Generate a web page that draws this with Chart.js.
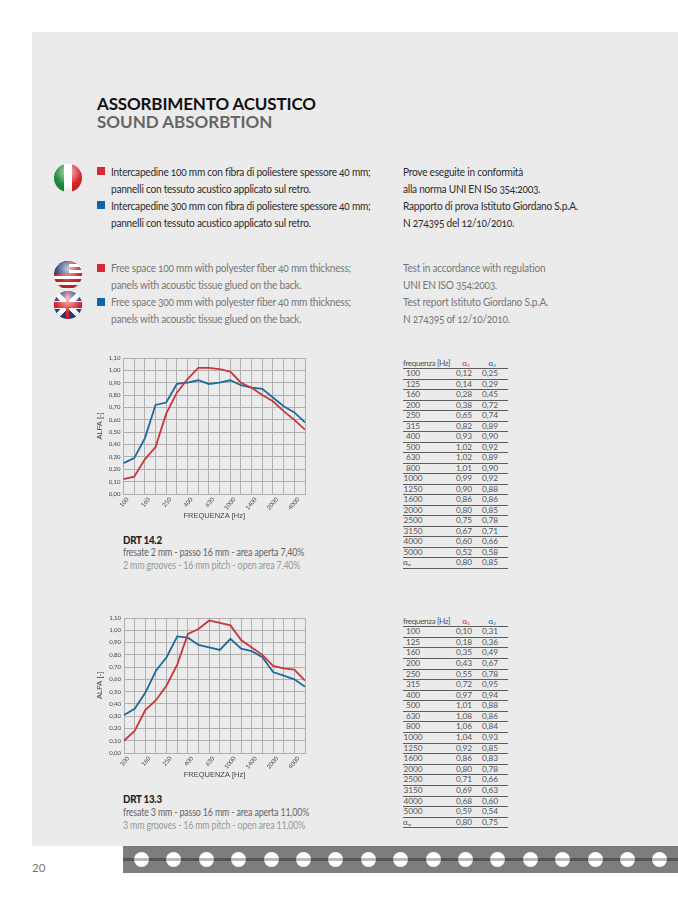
<!DOCTYPE html>
<html>
<head>
<meta charset="utf-8">
<script src="https://cdn.jsdelivr.net/npm/chart.js@4"></script>
<style>
html,body{margin:0;padding:0;background:#fff;}
body{width:678px;height:904px;position:relative;overflow:hidden;font-family:Lato,sans-serif;}
.abs{position:absolute;white-space:nowrap;}
#panel{left:32px;top:32px;width:646px;height:814px;background:#ebebeb;}
.h1{font-size:17px;line-height:18px;font-weight:700;}
.tx{font-size:11.5px;line-height:17px;letter-spacing:-.28px;transform:scaleX(.88);transform-origin:0 0;font-variant-numeric:oldstyle-nums;}
.dk{color:#2b2b2b;}
.gr{color:#777;}
.sq{position:absolute;width:8px;height:8px;}
.flag{position:absolute;width:28px;height:28px;border-radius:50%;overflow:hidden;}
.flag:after{content:"";position:absolute;inset:0;border-radius:50%;background:radial-gradient(circle at 50% 28%,rgba(255,255,255,.75),rgba(255,255,255,0) 55%,rgba(0,0,0,.18) 100%);}
.tbl{position:absolute;left:403px;width:105px;font-size:8.3px;color:#555;letter-spacing:-.1px;}
.row{display:grid;grid-template-columns:53px 26px 26px;box-sizing:border-box;border-bottom:1px solid #5c5c5c;line-height:9.5px;white-space:nowrap;}
.row span:first-child{display:block;width:20px;text-align:center;}
.row span.hd{width:auto;text-align:left;}
.row span{height:9px;overflow:visible;}
.row sub{font-size:4.5px;line-height:0;vertical-align:baseline;position:relative;top:1px;}
canvas{position:absolute;}
.cap{font-size:10.5px;line-height:13.5px;letter-spacing:-.2px;transform:scaleX(.845);transform-origin:0 0;}
.drt{font-size:11.5px;font-weight:900;color:#222;letter-spacing:-.3px;transform:scaleX(.85);transform-origin:0 0;}
#strip{left:123px;top:846px;width:555px;height:27px;background:#7d7d7d;overflow:hidden;}
#strip i{position:absolute;left:0;right:0;top:12px;height:3px;background:#555;display:block;}
#strip b{position:absolute;top:6px;width:15px;height:15px;border-radius:50%;background:linear-gradient(#fff 0 42%,#bbb 42% 58%,#fff 58%);}
</style>
</head>
<body>
<div class="abs" id="panel"></div>

<div class="abs h1" style="left:97px;top:95px;color:#111;letter-spacing:-.15px;">ASSORBIMENTO ACUSTICO</div>
<div class="abs h1" style="left:97px;top:113px;color:#666;">SOUND ABSORBTION</div>

<div class="flag" style="left:54px;top:164px;background:linear-gradient(90deg,#1f8a3b 0 36%,#fff 36% 66%,#d8232a 66%);"></div>
<div class="flag" style="left:54px;top:261px;background:repeating-linear-gradient(#c8202c 0 3px,#fff 3px 6px);"><div style="position:absolute;left:0;top:0;width:15px;height:13px;background:#2c3a80;"></div></div>
<div class="flag" style="left:54px;top:291px;background:linear-gradient(45deg,transparent 44%,#fff 44% 56%,transparent 56%),linear-gradient(-45deg,transparent 44%,#fff 44% 56%,transparent 56%),#2c3a80;"><div style="position:absolute;left:-6px;top:10px;width:40px;height:6px;background:#d8232a;border-top:1px solid #fff;border-bottom:1px solid #fff;"></div><div style="position:absolute;left:12px;top:-6px;width:3px;height:40px;background:#d8232a;"></div></div>

<div class="sq" style="left:97px;top:167px;background:#d9282f;"></div>
<div class="sq" style="left:97px;top:201px;background:#1262a6;"></div>
<div class="abs tx dk" style="left:111px;top:163px;">Intercapedine 100 mm con fibra di poliestere spessore 40 mm;<br>pannelli con tessuto acustico applicato sul retro.<br>Intercapedine 300 mm con fibra di poliestere spessore 40 mm;<br>pannelli con tessuto acustico applicato sul retro.</div>
<div class="abs tx dk" style="left:403px;top:163px;">Prove eseguite in conformità<br>alla norma UNI EN ISo 354:2003.<br>Rapporto di prova Istituto Giordano S.p.A.<br>N 274395 del 12/10/2010.</div>

<div class="sq" style="left:97px;top:264px;background:#d9282f;"></div>
<div class="sq" style="left:97px;top:298px;background:#1262a6;"></div>
<div class="abs tx gr" style="left:111px;top:259px;">Free space 100 mm with polyester fiber 40 mm thickness;<br>panels with acoustic tissue glued on the back.<br>Free space 300 mm with polyester fiber 40 mm thickness;<br>panels with acoustic tissue glued on the back.</div>
<div class="abs tx gr" style="left:403px;top:259px;">Test in accordance with regulation<br>UNI EN ISO 354:2003.<br>Test report Istituto Giordano S.p.A.<br>N 274395 of 12/10/2010.</div>

<canvas id="chart1" style="left:90px;top:345px;" width="240" height="177"></canvas>
<canvas id="chart2" style="left:90px;top:605px;" width="240" height="176"></canvas>
<div class="tbl" id="table1" style="top:358.7px;"></div>
<div class="tbl" id="table2" style="top:616.7px;"></div>

<div class="abs drt" style="left:123px;top:533px;">DRT 14.2</div>
<div class="abs cap" style="left:123px;top:546px;color:#666;">fresate 2 mm - passo 16 mm - area aperta 7,40%</div>
<div class="abs cap" style="left:123px;top:559px;color:#999;">2 mm grooves - 16 mm pitch - open area 7,40%</div>
<div class="abs drt" style="left:123px;top:792px;">DRT 13.3</div>
<div class="abs cap" style="left:123px;top:806px;color:#666;">fresate 3 mm - passo 16 mm - area aperta 11,00%</div>
<div class="abs cap" style="left:123px;top:819px;color:#999;">3 mm grooves - 16 mm pitch - open area 11,00%</div>

<div class="abs" id="strip"><i></i></div>
<div class="abs" style="left:32px;top:861px;font-size:11.5px;color:#777;">20</div>

<script>
const frequencies = ['100','125','160','200','250','315','400','500','630','800','1000','1250','1600','2000','2500','3150','4000','5000'];
const axisLabels = ['100','','160','','250','','400','','630','','1000','','1400','','2000','','4000',''];
const red1 = [0.12,0.14,0.28,0.38,0.65,0.82,0.93,1.02,1.02,1.01,0.99,0.90,0.86,0.80,0.75,0.67,0.60,0.52];
const blue1 = [0.25,0.29,0.45,0.72,0.74,0.89,0.90,0.92,0.89,0.90,0.92,0.88,0.86,0.85,0.78,0.71,0.66,0.58];
const red2 = [0.10,0.18,0.35,0.43,0.55,0.72,0.97,1.01,1.08,1.06,1.04,0.92,0.86,0.80,0.71,0.69,0.68,0.59];
const blue2 = [0.31,0.36,0.49,0.67,0.78,0.95,0.94,0.88,0.86,0.84,0.93,0.85,0.83,0.78,0.66,0.63,0.60,0.54];
const avg1 = ['0,80','0,85'];
const avg2 = ['0,80','0,75'];

const fmt = v => v.toFixed(2).replace('.', ',');

// frequency, alpha 1, alpha 2 rows
function fillRows(id, red, blue, avg, rowH) {
  const row = (a, b, c) => `<div class="row" style="height:${rowH}px">${a}<span>${b}</span><span>${c}</span></div>`;
  let html = row('<span class="hd" style="letter-spacing:-.45px">frequenza [Hz]</span>', '<span style="color:#c9252c">α<sub>1</sub></span>', '<span style="color:#1262a6">α<sub>2</sub></span>');
  frequencies.forEach((f, i) => {
    html += row(`<span>${f}</span>`, fmt(red[i]), fmt(blue[i]));
  });
  html += row('<span class="hd">α<sub>w</sub></span>', avg[0], avg[1]);
  document.getElementById(id).innerHTML = html;
}
fillRows('table1', red1, blue1, avg1, 10.53);
fillRows('table2', red2, blue2, avg2, 10.58);

const strip = document.getElementById('strip');
for (let i = 0; i < 18; i++) {
  const dot = document.createElement('b');
  dot.style.left = (11 + i * 32.4) + 'px';
  strip.appendChild(dot);
}

function drawChart(id, red, blue, leftW) {
  new Chart(document.getElementById(id), {
    type: 'line',
    data: {
      labels: axisLabels,
      datasets: [
        { data: red, borderColor: '#c9363e', borderWidth: 1.8, pointRadius: 0, tension: 0 },
        { data: blue, borderColor: '#1f6a9c', borderWidth: 1.8, pointRadius: 0, tension: 0 }
      ]
    },
    options: {
      responsive: false,
      animation: false,
      layout: { padding: { left: 0, right: 25, top: 13, bottom: 0 } },
      plugins: { legend: { display: false }, title: { display: false }, tooltip: { enabled: false } },
      scales: {
        x: {
          offset: false,
          afterFit: s => { s.height = 28; },
          grid: { color: '#b0b0b0', lineWidth: 1, drawTicks: false },
          border: { color: '#b0b0b0' },
          title: { display: true, text: 'FREQUENZA [Hz]', color: '#444', font: { family: 'Liberation Sans', size: 7.5 }, padding: { top: 0, bottom: 2 } },
          ticks: { autoSkip: false, color: '#444', font: { family: 'Lato', size: 6 }, maxRotation: 50, minRotation: 50, padding: 2, labelOffset: 4 }
        },
        y: {
          min: 0, max: 1.1,
          afterFit: s => { s.width = leftW; },
          afterBuildTicks: axis => { axis.ticks = Array.from({ length: 12 }, (_, i) => ({ value: i / 10 })); },
          grid: { color: '#b0b0b0', lineWidth: 1, drawTicks: false },
          border: { color: '#b0b0b0' },
          title: { display: true, text: 'ALFA [-]', color: '#444', font: { family: 'Liberation Sans', size: 7.5 }, padding: { top: 5, bottom: 0 } },
          ticks: { color: '#444', font: { family: 'Lato', size: 6 }, padding: 3, callback: v => fmt(v) }
        }
      }
    }
  });
}
drawChart('chart1', red1, blue1, 33.5);
drawChart('chart2', red2, blue2, 34);
</script>
</body>
</html>
